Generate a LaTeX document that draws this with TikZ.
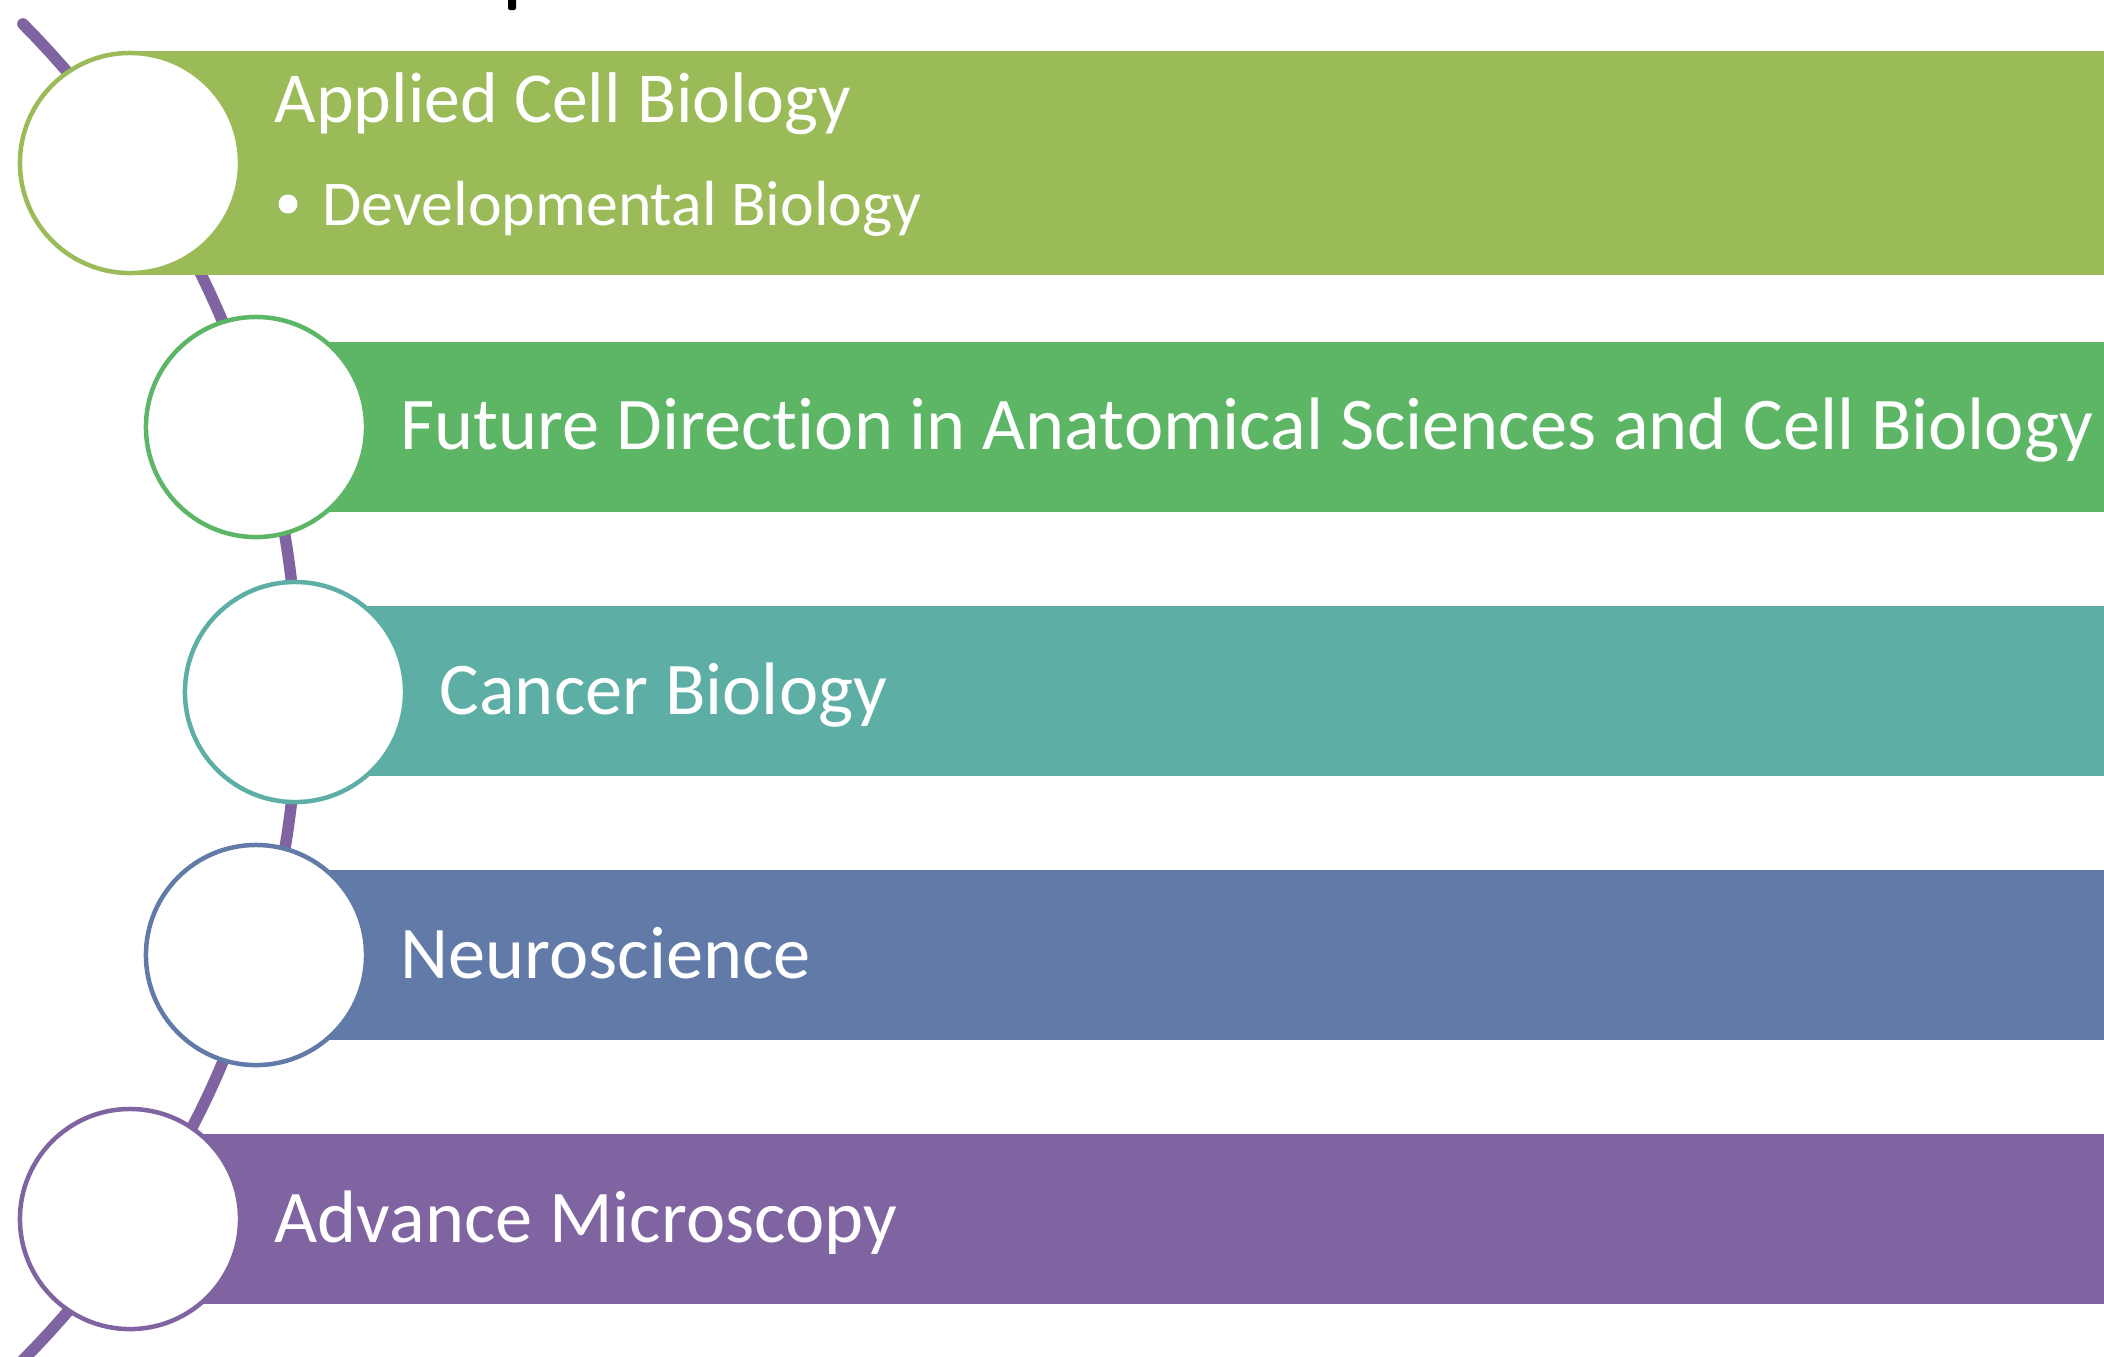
\documentclass[tikz,border=0pt]{standalone}
\usepackage{fontspec}
\setmainfont{Carlito}[Ligatures=NoCommon]
\definecolor{oliveband}{HTML}{9BBB59}
\definecolor{greenband}{HTML}{5DB566}
\definecolor{tealband}{HTML}{5DAFA5}
\definecolor{blueband}{HTML}{617AA8}
\definecolor{plumband}{HTML}{8064A2}
\tikzset{
    spine/.style={draw=plumband, line width=0.115cm, line cap=round},
    dot/.style={circle, fill=white, draw=#1, line width=0.045cm, minimum size=2.2cm, inner sep=0pt},
    pip/.style={circle, fill=white, inner sep=0pt, minimum size=0.19cm},
    itemtext/.style={inner sep=0pt, anchor=base west, text=white, font=\fontsize{21.15}{25}\selectfont},
    headtext/.style={itemtext, font=\fontsize{20.4}{24}\selectfont},
    subtext/.style={itemtext, font=\fontsize{18.15}{22}\selectfont},
}

\begin{document}
\begin{tikzpicture}[x=0.01cm, y=-0.01cm]
    \useasboundingbox (0,0) rectangle (2104,1356);
    % cut-off heading above the list
    \fill[black, rounded corners=0.02cm] (508,-5) rectangle (516,10);
    % the curved spine behind the circles
    \draw[spine] plot[domain=-44.75:47, samples=80] ({-651+949*cos(\x)}, {692+949*sin(\x)});
    % bands
    \fill[oliveband] (130,51) rectangle (2104,275);
    \fill[greenband] (256,342) rectangle (2104,512);
    \fill[tealband] (295,606) rectangle (2104,776);
    \fill[blueband] (256,870) rectangle (2104,1040);
    \fill[plumband] (130,1134) rectangle (2104,1304);
    % circles
    \node[dot=oliveband] (c1) at (130,163) {};
    \node[dot=greenband] (c2) at (256,427) {};
    \node[dot=tealband] (c3) at (295,692) {};
    \node[dot=blueband] (c4) at (256,955) {};
    \node[dot=plumband] (c5) at (130,1219) {};
    % texts
    \node[headtext] (t1) at (274,122) {Applied Cell Biology};
    \node[pip] (b1) at (288,204) {};
    \node[subtext] (s1) at (322,225) {Developmental Biology};
    \node[itemtext] (t2) at (400,449) {Future Direction in Anatomical Sciences and Cell Biology};
    \node[itemtext] (t3) at (439,714) {Cancer Biology};
    \node[itemtext] (t4) at (400,978) {Neuroscience};
    \node[itemtext] (t5) at (274,1242) {Advance Microscopy};
\end{tikzpicture}
\end{document}
